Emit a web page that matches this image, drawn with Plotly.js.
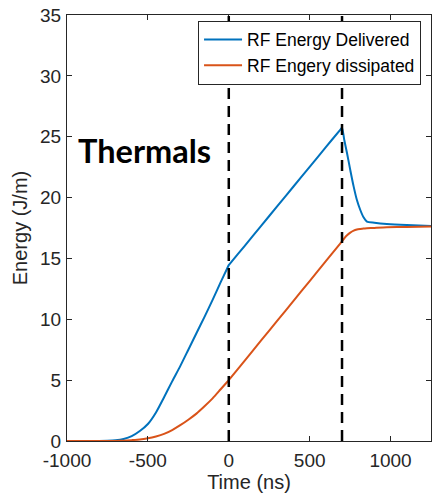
<!DOCTYPE html>
<html>
<head>
<meta charset="utf-8">
<script src="https://cdn.plot.ly/plotly-3.0.1.min.js"></script>
<style>html,body{margin:0;padding:0;background:#fff;}#chart{width:433px;height:500px;}</style>
</head>
<body>
<div id="chart"></div>
<script>
const timeNs = [-1000, -900, -800, -750, -700, -650, -600, -550, -500, -450, -400, -350, -300, -250, -200, -150, -100, -50, -10, 0, 10, 100, 200, 300, 400, 500, 600, 690, 700, 714, 731, 751, 772, 792, 813, 833, 854, 900, 977, 1100, 1250];
const energyDelivered = [0, 0, 0.005, 0.02, 0.06, 0.17, 0.4, 0.82, 1.4, 2.35, 3.6, 4.9, 6.15, 7.5, 8.85, 10.2, 11.6, 13.05, 14.17, 14.45, 14.61, 16.06, 17.68, 19.29, 20.91, 22.52, 24.14, 25.59, 25.75, 24.73, 23.64, 22.27, 20.9, 19.8, 18.98, 18.38, 18.02, 17.93, 17.83, 17.74, 17.67];
const energyDissipated = [0, 0, 0, 0.005, 0.01, 0.03, 0.07, 0.12, 0.22, 0.37, 0.58, 0.9, 1.3, 1.75, 2.25, 2.85, 3.5, 4.25, 4.85, 5.0, 5.16, 6.63, 8.26, 9.89, 11.51, 13.14, 14.77, 16.24, 16.4, 16.65, 16.9, 17.12, 17.28, 17.37, 17.42, 17.46, 17.48, 17.51, 17.56, 17.59, 17.62];
const markerTimes = [0, 700];
const seriesNames = ['RF Energy Delivered', 'RF Engery dissipated'];
const xTicks = [-1000, -500, 0, 500, 1000];
const yTicks = [0, 5, 10, 15, 20, 25, 30, 35];

const font = 'Liberation Sans, Arial, Helvetica, sans-serif';
const axisColor = '#262626';

const traces = [
  {x: timeNs, y: energyDelivered, type: 'scatter', mode: 'lines', name: seriesNames[0],
   line: {color: '#0072BD', width: 2, shape: 'spline', smoothing: 0.6}},
  {x: timeNs, y: energyDissipated, type: 'scatter', mode: 'lines', name: seriesNames[1],
   line: {color: '#D95319', width: 2, shape: 'spline', smoothing: 0.6}}
];

const axisCommon = {
  showline: true, linecolor: axisColor, linewidth: 1, mirror: 'ticks',
  ticks: 'inside', ticklen: 5, tickcolor: axisColor, tickwidth: 1,
  showgrid: false, zeroline: false,
  tickfont: {family: font, size: 19, color: axisColor}
};

const layout = {
  width: 433, height: 500,
  margin: {l: 67, r: 2, t: 15, b: 59},
  paper_bgcolor: '#fff', plot_bgcolor: '#fff',
  showlegend: true,
  xaxis: Object.assign({}, axisCommon, {
    range: [-1000, 1250], tickmode: 'array', tickvals: xTicks, ticktext: xTicks.map(String),
    ticklabelstandoff: 2,
    title: {text: 'Time (ns)', font: {family: font, size: 20, color: axisColor}, standoff: 4}
  }),
  yaxis: Object.assign({}, axisCommon, {
    range: [0, 35], tickmode: 'array', tickvals: yTicks, ticktext: yTicks.map(String),
    ticklabelstandoff: 1,
    title: {text: 'Energy (J/m)', font: {family: font, size: 20, color: axisColor}, standoff: 7}
  }),
  legend: {
    x: 0.36, y: 0.987, xanchor: 'left', yanchor: 'top',
    bgcolor: '#fff', bordercolor: axisColor, borderwidth: 1,
    font: {family: font, size: 17.5, color: '#000'},
    itemwidth: 38, tracegroupgap: 0
  },
  shapes: markerTimes.map(t => ({
    type: 'line', xref: 'x', yref: 'paper', x0: t, x1: t, y0: 0, y1: 1,
    line: {color: '#000', width: 2.5, dash: '11px,7px'}
  })),
  annotations: [{
    text: 'Thermals', xref: 'paper', yref: 'paper', x: 0.026, y: 0.683,
    xanchor: 'left', yanchor: 'middle', showarrow: false,
    font: {family: 'Lato, sans-serif', size: 32.5, color: '#000', weight: 'bold'}
  }]
};

Plotly.newPlot('chart', traces, layout, {displayModeBar: false, staticPlot: true});
</script>
</body>
</html>
